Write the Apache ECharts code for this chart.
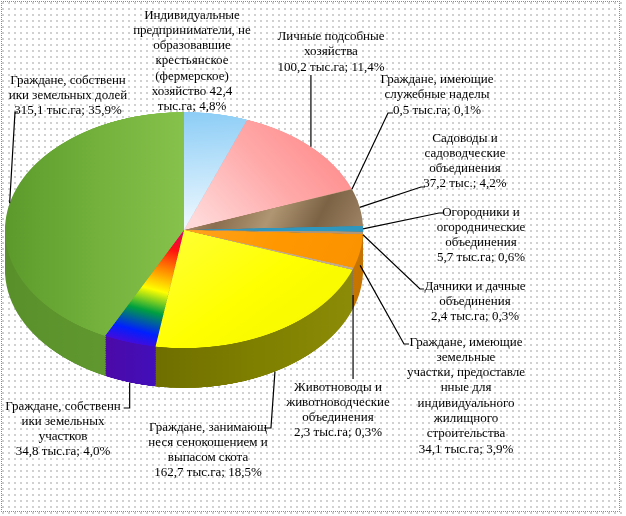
<!DOCTYPE html>
<html>
<head>
<meta charset="utf-8">
<script src="https://cdn.jsdelivr.net/npm/echarts/dist/echarts.min.js"></script>
<style>
html,body{margin:0;padding:0;background:#fff;}
#wrap{position:relative;width:626px;height:516px;overflow:hidden;background:#fff;}
#dots{position:absolute;left:0;top:0;width:626px;height:516px;
  background-image:radial-gradient(circle, #cfcfcf 0.7px, rgba(255,255,255,0) 0.9px);
  background-size:6px 6px;}
#pie{position:absolute;left:0;top:0;width:626px;height:600px;transform-origin:0 0;}
#lab{position:absolute;left:0;top:0;width:626px;height:516px;}
#frame{position:absolute;left:1px;top:1px;width:619px;height:511px;border:1px dotted #8c8c8c;box-sizing:border-box;}
</style>
</head>
<body>
<div id="wrap">
  <div id="dots"></div>
  <div id="pie"></div>
  <div id="lab"></div>
  <div id="frame"></div>
</div>
<script>
// ---------------- data ----------------
const categories = [
  'Индивидуальные предприниматели, не образовавшие крестьянское (фермерское) хозяйство',
  'Личные подсобные хозяйства',
  'Граждане, имеющие служебные наделы',
  'Садоводы и садоводческие объединения',
  'Огородники и огороднические объединения',
  'Дачники и дачные объединения',
  'Граждане, имеющие земельные участки, предоставленные для индивидуального жилищного строительства',
  'Животноводы и животноводческие объединения',
  'Граждане, занимающиеся сенокошением и выпасом скота',
  'Граждане, собственники земельных участков',
  'Граждане, собственники земельных долей'
];
const areaValues = [42.4, 100.2, 0.5, 37.2, 5.7, 2.4, 34.1, 2.3, 162.7, 34.8, 315.1];
const sharePercents = [4.8, 11.4, 0.1, 4.2, 0.6, 0.3, 3.9, 0.3, 18.5, 4.0, 35.9];
const labelNames = [
  'Индивидуальные\nпредприниматели, не\nобразовавшие\nкрестьянское\n(фермерское)\nхозяйство',
  'Личные подсобные\nхозяйства',
  'Граждане, имеющие\nслужебные наделы',
  'Садоводы и\nсадоводческие\nобъединения',
  'Огородники и\nогороднические\nобъединения',
  'Дачники и дачные\nобъединения',
  'Граждане, имеющие\nземельные\nучастки, предоставле\nнные для\nиндивидуального\nжилищного\nстроительства',
  'Животноводы и\nживотноводческие\nобъединения',
  'Граждане, занимающ\nнеся сенокошением и\nвыпасом скота',
  'Граждане, собственн\nики земельных\nучастков',
  'Граждане, собственн\nики земельных долей'
];
const units = ['тыс.га','тыс.га','тыс.га','тыс.','тыс.га','тыс.га','тыс.га','тыс.га','тыс.га','тыс.га','тыс.га'];

// ---------------- geometry / styles ----------------
const CX = 184, CY = 230, RX = 179, RY = 118, DEPTH = 40;
const SY = RY / RX;
const CY_PRE = CY / SY, DEPTH_PRE = DEPTH / SY;
const LAYERS = 22;

const lg = (x, y, x2, y2, stops) => ({
  type: 'linear', x, y, x2, y2,
  colorStops: stops.map((c, i) => ({ offset: i / (stops.length - 1), color: c }))
});

const topColors = [
  lg(0, 0, 0.3, 1, ['#8ccdf6', '#bfe4fb', '#f2faff']),
  lg(1, 0.2, 0, 0.8, ['#ff8787', '#ffaaaa', '#ffd9d9']),
  '#b59c7a',
  lg(0, 0, 1, 1, ['#b69a76', '#8a6e4f', '#b09672', '#7c6345', '#a08565']),
  '#2d97bf',
  '#b09676',
  lg(0, 0, 1, 1, ['#ffa31f', '#ff9800', '#fb9200']),
  '#c2ab8c',
  lg(0, 0, 1, 1, ['#ffff3a', '#ffff00', '#f4f400']),
  lg(1, 0, 0.1, 1, ['#e0006e', '#ff1010', '#ff8a00', '#ffff00', '#00a040', '#0020ff', '#6a00c8']),
  lg(0, 0, 1, 0, ['#5c9a2c', '#73b13c', '#86c24c'])
];
const sideColors = [
  '#6eaad3', '#d06c6c', '#86704f', '#6d5940', '#1f6d8c', '#86704f',
  '#c77500', '#8a765a',
  lg(0, 0, 1, 0, ['#6f6f00', '#7f7f00', '#8c8c08']),
  lg(0, 0, 1, 0, ['#4c0aa8', '#3c12c4']),
  lg(0, 0, 1, 0, ['#5a902a', '#66a034'])
];

const labelCfg = [
  { x: 192, y: 7.5, inline: true, line: null },
  { x: 331, y: 29, line: s => [s, [s[0], 75], [s[0], 75]] },
  { x: 437, y: 72, line: s => [s, [388, 113], [393, 113]] },
  { x: 465, y: 130.5, line: s => [s, [421, 187], [425, 187]] },
  { x: 481, y: 204.5, line: s => [s, [439, 213], [443, 213]] },
  { x: 475, y: 278.5, line: s => [s, [420, 289], [424, 289]] },
  { x: 466, y: 334.5, line: s => [s, [404, 344], [409, 344]] },
  { x: 338, y: 379.5, line: s => [s, [s[0], 379], [s[0], 379]] },
  { x: 208, y: 419.5, line: s => [s, [s[0] - 4, 428], [s[0] - 11, 428]] },
  { x: 63, y: 398.5, line: s => [s, [s[0], 408], [s[0] - 6, 408]] },
  { x: 68, y: 72.5, line: s => [s, [15, 112], [18, 112]] }
];

const fmt = v => v.toFixed(1).replace('.', ',');

// ---------------- pie (shapes, vertically squashed) ----------------
const pieEl = document.getElementById('pie');
pieEl.style.transform = 'scaleY(' + SY + ')';
const pieChart = echarts.init(pieEl, null, { renderer: 'canvas', devicePixelRatio: 2 });

const makeData = colors => areaValues.map((v, i) => ({
  name: categories[i], value: v, itemStyle: { color: colors[i] }
}));

const pieSeries = [];
for (let k = LAYERS; k >= 1; k--) {
  pieSeries.push({
    type: 'pie', silent: true, animation: false,
    center: [CX, CY_PRE + k * DEPTH_PRE / LAYERS], radius: RX,
    startAngle: 90, clockwise: true, avoidLabelOverlap: false,
    label: { show: false }, labelLine: { show: false },
    itemStyle: { borderWidth: 0 },
    emphasis: { disabled: true },
    data: makeData(sideColors)
  });
}
pieSeries.push({
  type: 'pie', silent: true, animation: false,
  center: [CX, CY_PRE], radius: RX,
  startAngle: 90, clockwise: true, avoidLabelOverlap: false,
  label: { show: false }, labelLine: { show: false },
  itemStyle: { borderWidth: 0 },
  emphasis: { disabled: true },
  data: makeData(topColors)
});
pieChart.setOption({ animation: false, series: pieSeries });

// ---------------- labels (unscaled overlay) ----------------
const labChart = echarts.init(document.getElementById('lab'), null, { renderer: 'canvas' });
labChart.setOption({
  animation: false,
  series: [{
    type: 'pie', silent: true, animation: false,
    center: [CX, CY], radius: RX,
    startAngle: 90, clockwise: true, avoidLabelOverlap: false,
    itemStyle: { color: 'rgba(0,0,0,0)', borderWidth: 0 },
    emphasis: { disabled: true },
    label: {
      show: true, position: 'outside',
      fontFamily: 'Liberation Serif', fontSize: 13, lineHeight: 15.3,
      color: '#000', align: 'center',
      formatter: p => {
        const i = p.dataIndex;
        const v = fmt(areaValues[i]), pc = fmt(sharePercents[i]) + '%';
        if (labelCfg[i].inline) return labelNames[i] + ' ' + v + '\n' + units[i] + '; ' + pc;
        return labelNames[i] + '\n' + v + ' ' + units[i] + '; ' + pc;
      }
    },
    labelLine: { show: true, length: 10, length2: 10, smooth: false, lineStyle: { color: '#000', width: 1.2 } },
    labelLayout: p => {
      const cfg = labelCfg[p.dataIndex];
      const out = { x: cfg.x, y: cfg.y, align: 'center', verticalAlign: 'top' };
      if (cfg.line && p.labelLinePoints) {
        const s0 = p.labelLinePoints[0];
        let y = CY + (s0[1] - CY) * SY;
        if (y > CY) y += DEPTH * Math.min(1, (y - CY) / RY * 2);
        out.labelLinePoints = cfg.line([s0[0], y]);
      }
      return out;
    },
    data: areaValues.map((v, i) => ({
      name: categories[i], value: v,
      labelLine: { show: !!labelCfg[i].line }
    }))
  }]
});
</script>
</body>
</html>
